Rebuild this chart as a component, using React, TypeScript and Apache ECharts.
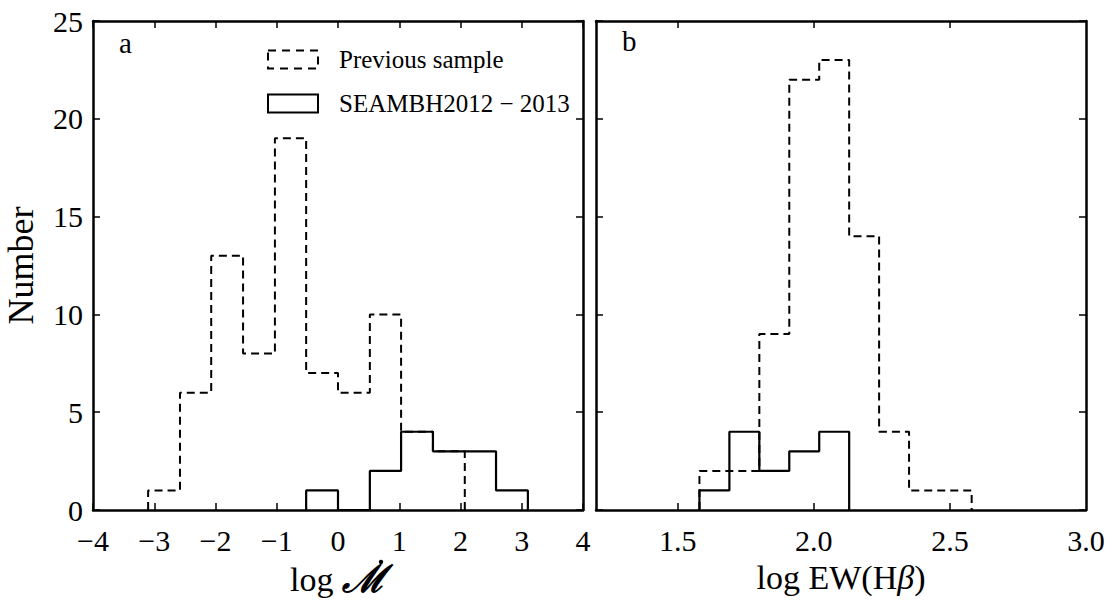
import React, { useEffect, useRef } from "react";
import * as echarts from "echarts";

// ---- Data ----
// Panel a: log M-dot
const prevEdgesA = [-3.1, -2.58, -2.07, -1.55, -1.03, -0.52, 0.0, 0.52, 1.03, 1.55, 2.07];
const prevCountsA = [1, 6, 13, 8, 19, 7, 6, 10, 4, 3];
const seamEdgesA = [-0.52, 0.0, 0.52, 1.03, 1.55, 2.07, 2.58, 3.1];
const seamCountsA = [1, 0, 2, 4, 3, 3, 1];

// Panel b: log EW(Hbeta)
const prevEdgesB = [1.58, 1.69, 1.8, 1.91, 2.02, 2.13, 2.24, 2.35, 2.47, 2.58];
const prevCountsB = [2, 2, 9, 22, 23, 14, 4, 1, 1];
const seamEdgesB = [1.58, 1.69, 1.8, 1.91, 2.02, 2.13];
const seamCountsB = [1, 4, 2, 3, 4];

const yTicks = [0, 5, 10, 15, 20, 25];
const xTicksB = [1.5, 2.0, 2.5, 3.0];
const xTopTicksB = [1.5, 2.0, 2.5];

const legendNames = ["Previous sample", "SEAMBH2012 − 2013"];

function stepPoints(edges: number[], counts: number[]) {
  const pts: number[][] = [[edges[0], 0]];
  for (let i = 0; i < counts.length; i++) {
    pts.push([edges[i], counts[i]]);
    pts.push([edges[i + 1], counts[i]]);
  }
  pts.push([edges[edges.length - 1], 0]);
  return pts;
}

const FONT = "Liberation Serif";
const AXW = 2.5;
const DASH = [8, 5];

export default function App() {
  const ref = useRef<HTMLDivElement>(null);
  useEffect(() => {
    document.body.style.margin = "0";
    const chart = echarts.init(ref.current!, null, { renderer: "svg" });
    const tickStyle = { inside: true, length: 7, lineStyle: { color: "#000", width: 1.5 } };
    const axisLine = { show: true, onZero: false, lineStyle: { color: "#000", width: AXW } };
    const grids = [
      { left: 93, right: 531, top: 21, bottom: 94 },
      { left: 596, right: 28, top: 21, bottom: 94 },
    ];
    const xLabel = {
      fontFamily: FONT,
      fontSize: 30,
      color: "#000",
      margin: 15,
      showMinLabel: true,
      showMaxLabel: true,
    };
    const option: any = {
      animation: false,
      backgroundColor: "#fff",
      textStyle: { fontFamily: FONT, color: "#000" },
      grid: grids,
      legend: {
        show: true,
        orient: "vertical",
        left: 262,
        top: 42,
        itemWidth: 50,
        itemHeight: 18,
        itemGap: 19,
        selectedMode: false,
        icon: "rect",
        textStyle: { fontFamily: FONT, fontSize: 25, color: "#000", lineHeight: 18, padding: [0, 0, 0, 16] },
        data: [
          {
            name: legendNames[0],
            icon: "rect",
            itemStyle: { color: "#fff", borderColor: "#000", borderWidth: 2, borderType: [8, 6] },
          },
          {
            name: legendNames[1],
            icon: "rect",
            itemStyle: { color: "#fff", borderColor: "#000", borderWidth: 2, borderType: "solid" },
          },
        ],
      },
      xAxis: [
        {
          type: "value",
          gridIndex: 0,
          min: -4,
          max: 4,
          interval: 1,
          position: "bottom",
          axisLine,
          axisTick: tickStyle,
          splitLine: { show: false },
          axisLabel: {
            ...xLabel,
            formatter: (v: number) => String(v).replace("-", "−"),
          },
          name: "log {m|ℳ}",
          nameLocation: "middle",
          nameGap: 50,
          nameTextStyle: {
            fontFamily: FONT,
            fontSize: 34,
            color: "#000",
            rich: {
              m: { fontFamily: FONT, fontSize: 38, fontStyle: "italic", fontWeight: "bold", color: "#000" },
            },
          },
        },
        {
          type: "value",
          gridIndex: 0,
          min: -4,
          max: 4,
          interval: 1,
          position: "top",
          axisLine,
          axisTick: tickStyle,
          splitLine: { show: false },
          axisLabel: { show: false },
        },
        {
          type: "value",
          gridIndex: 1,
          min: 1.2,
          max: 3.0,
          position: "bottom",
          axisLine,
          axisTick: { ...tickStyle, customValues: xTopTicksB },
          splitLine: { show: false },
          axisLabel: {
            ...xLabel,
            customValues: xTicksB,
            formatter: (v: number) => v.toFixed(1),
          },
          name: "log EW(H{b|β})",
          nameLocation: "middle",
          nameGap: 50,
          nameTextStyle: {
            fontFamily: FONT,
            fontSize: 34,
            color: "#000",
            rich: { b: { fontFamily: FONT, fontSize: 34, fontStyle: "italic", color: "#000" } },
          },
        },
        {
          type: "value",
          gridIndex: 1,
          min: 1.2,
          max: 3.0,
          position: "top",
          axisLine,
          axisTick: { ...tickStyle, customValues: xTopTicksB },
          splitLine: { show: false },
          axisLabel: { show: false },
        },
      ],
      yAxis: [
        {
          type: "value",
          gridIndex: 0,
          min: 0,
          max: 25,
          interval: 5,
          position: "left",
          axisLine,
          axisTick: tickStyle,
          splitLine: { show: false },
          axisLabel: {
            fontFamily: FONT,
            fontSize: 30,
            color: "#000",
            margin: 10,
            customValues: yTicks,
          },
          name: "Number",
          nameLocation: "middle",
          nameGap: 54,
          nameTextStyle: { fontFamily: FONT, fontSize: 36, color: "#000" },
        },
        {
          type: "value",
          gridIndex: 0,
          min: 0,
          max: 25,
          interval: 5,
          position: "right",
          axisLine,
          axisTick: tickStyle,
          splitLine: { show: false },
          axisLabel: { show: false },
        },
        {
          type: "value",
          gridIndex: 1,
          min: 0,
          max: 25,
          interval: 5,
          position: "left",
          axisLine,
          axisTick: tickStyle,
          splitLine: { show: false },
          axisLabel: { show: false },
        },
        {
          type: "value",
          gridIndex: 1,
          min: 0,
          max: 25,
          interval: 5,
          position: "right",
          axisLine,
          axisTick: tickStyle,
          splitLine: { show: false },
          axisLabel: { show: false },
        },
      ],
      series: [
        {
          name: legendNames[0],
          type: "line",
          xAxisIndex: 0,
          yAxisIndex: 0,
          data: stepPoints(prevEdgesA, prevCountsA),
          symbol: "none",
          lineStyle: { color: "#000", width: 2, type: DASH },
          itemStyle: { color: "#000" },
          z: 3,
        },
        {
          name: legendNames[1],
          type: "line",
          xAxisIndex: 0,
          yAxisIndex: 0,
          data: stepPoints(seamEdgesA, seamCountsA),
          symbol: "none",
          lineStyle: { color: "#000", width: 2.2, type: "solid" },
          itemStyle: { color: "#000" },
          z: 4,
        },
        {
          name: legendNames[0],
          type: "line",
          xAxisIndex: 2,
          yAxisIndex: 2,
          data: stepPoints(prevEdgesB, prevCountsB),
          symbol: "none",
          lineStyle: { color: "#000", width: 2, type: DASH },
          itemStyle: { color: "#000" },
          z: 3,
        },
        {
          name: legendNames[1],
          type: "line",
          xAxisIndex: 2,
          yAxisIndex: 2,
          data: stepPoints(seamEdgesB, seamCountsB),
          symbol: "none",
          lineStyle: { color: "#000", width: 2.2, type: "solid" },
          itemStyle: { color: "#000" },
          z: 4,
        },
      ],
      graphic: [
        {
          type: "text",
          left: 119,
          top: 28,
          style: { text: "a", fontFamily: FONT, fontSize: 29, fill: "#000" },
        },
        {
          type: "text",
          left: 622,
          top: 26,
          style: { text: "b", fontFamily: FONT, fontSize: 29, fill: "#000" },
        },
        {
          type: "circle",
          shape: { cx: 381, cy: 562, r: 2.2 },
          style: { fill: "#000" },
        },
      ],
    };
    chart.setOption(option);
    return () => chart.dispose();
  }, []);
  return (
    <div
      ref={ref}
      style={{ position: "absolute", left: 0, top: 0, width: 1114, height: 604, background: "#fff" }}
    />
  );
}
